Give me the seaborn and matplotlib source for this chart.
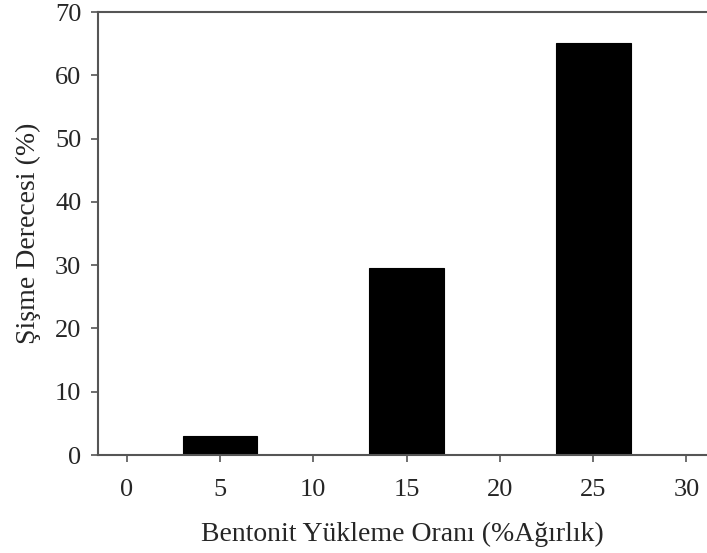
import matplotlib
matplotlib.use("Agg")
import matplotlib.pyplot as plt
import seaborn as sns
import pandas as pd

# Bentonite loading (wt%) and swelling degree (%)
loading = [5, 15, 25]
swelling = [3.0, 29.5, 65.1]
x_ticks = [0, 5, 10, 15, 20, 25, 30]
y_ticks = [0, 10, 20, 30, 40, 50, 60, 70]

sns.set_style("white")
plt.rcParams["font.family"] = ["Liberation Serif", "DejaVu Serif"]

df = pd.DataFrame({"loading": loading, "swelling": swelling})

fig = plt.figure(figsize=(7.07, 5.53), dpi=100)
ax = fig.add_axes([0.1386, 0.1772, 0.8614, 0.8011])

sns.barplot(data=df, x="loading", y="swelling", native_scale=True,
            width=0.4, color="black", saturation=1, edgecolor="black",
            linewidth=0.8, ax=ax)

ax.set_xlim(-1.54, 31.1)
ax.set_ylim(0, 70)
ax.set_xticks(x_ticks)
ax.set_yticks(y_ticks)
ax.tick_params(axis="both", which="major", bottom=True, left=True,
               direction="out", length=5, width=1.2,
               color="#555555", labelsize=19)
ax.tick_params(axis="y", pad=7)
ax.tick_params(axis="x", pad=12)

for side in ["left", "bottom", "top"]:
    ax.spines[side].set_visible(True)
    ax.spines[side].set_color("#555555")
    ax.spines[side].set_linewidth(1.5)
ax.spines["right"].set_visible(False)

ax.set_xlabel("Bentonit Yükleme Oranı (%Ağırlık)", fontsize=20, labelpad=15)
ax.set_ylabel("Şişme Derecesi (%)", fontsize=20, labelpad=10)

fig.savefig("out.png", dpi=100)
